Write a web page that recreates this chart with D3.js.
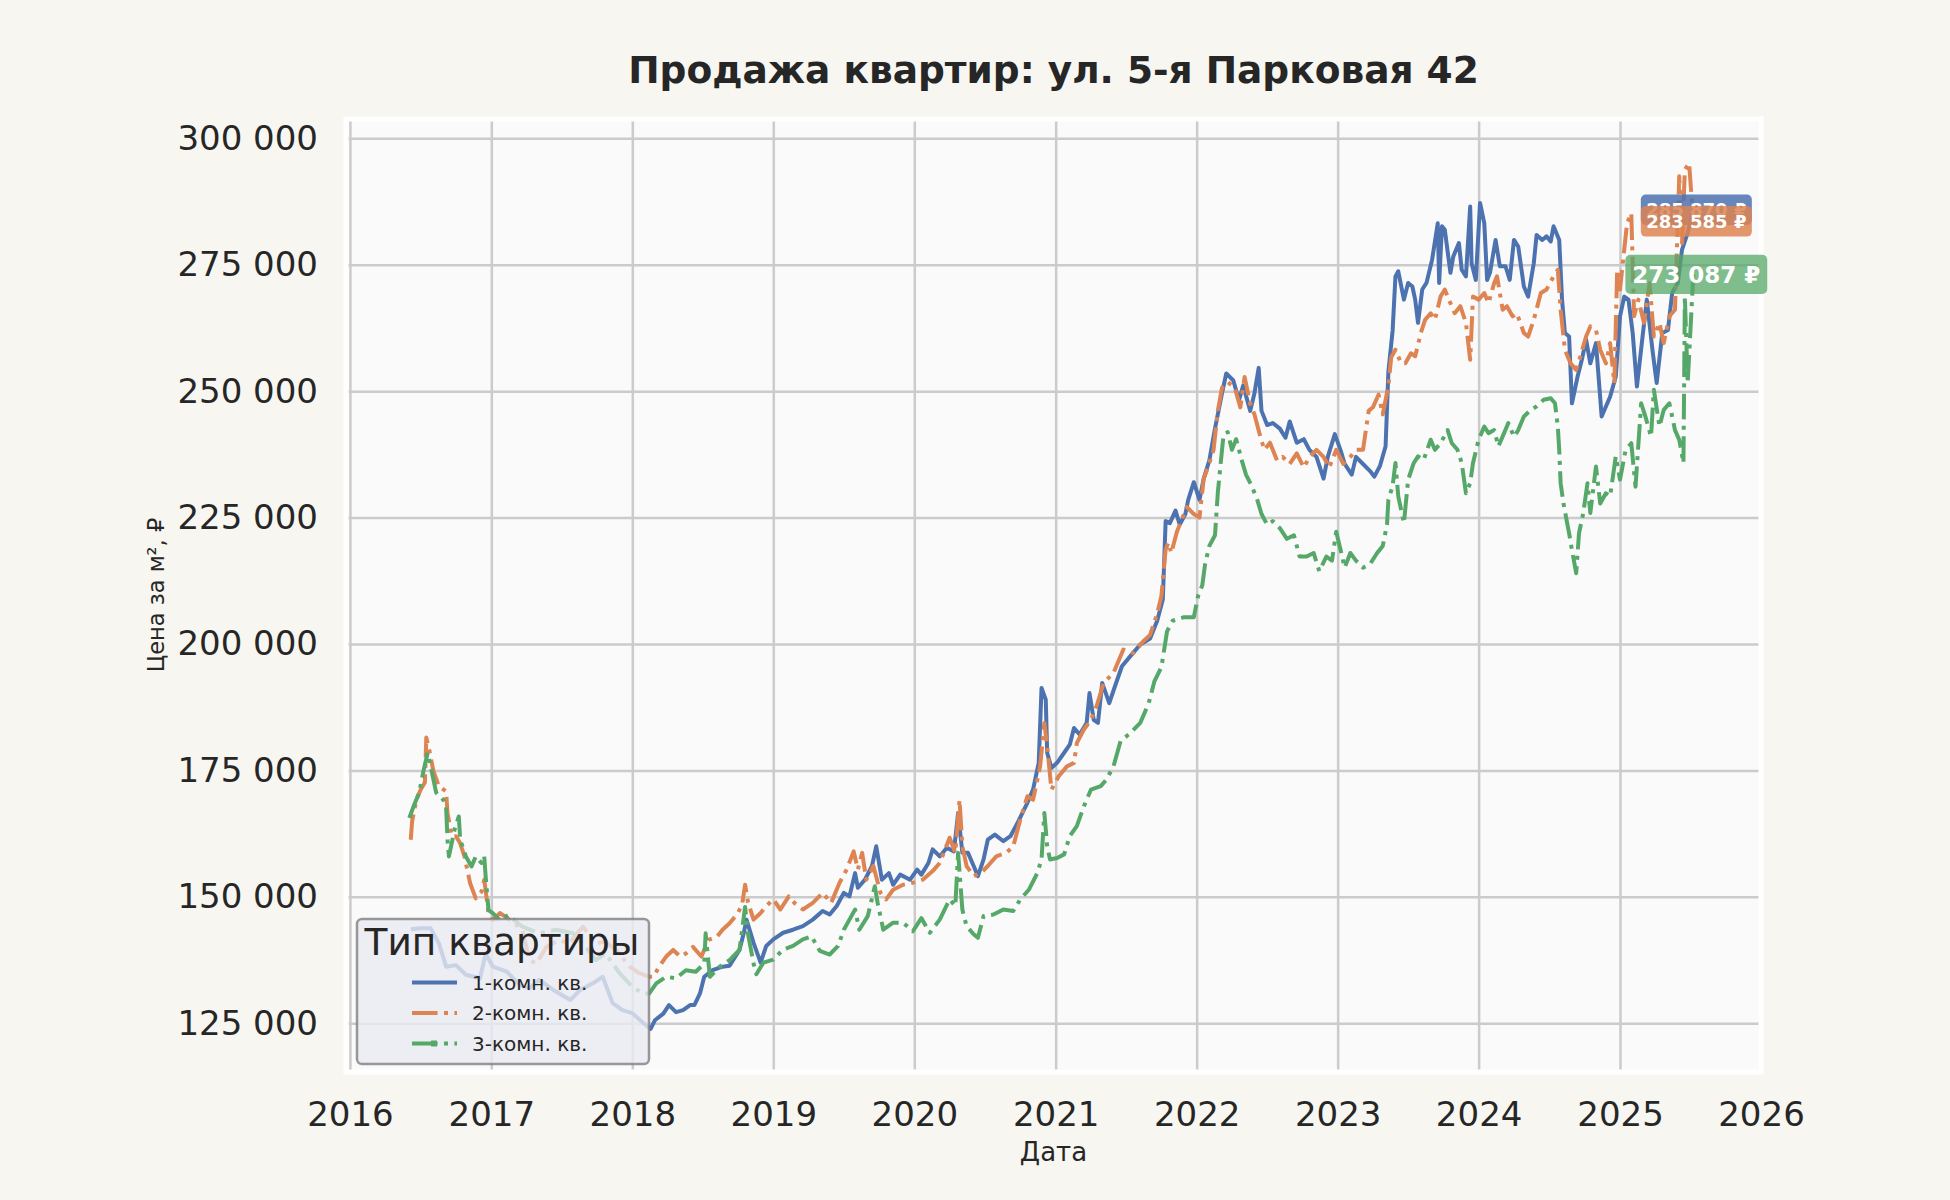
<!DOCTYPE html>
<html>
<head>
<meta charset="utf-8">
<script src="https://cdn.jsdelivr.net/npm/d3@7"></script>
<style>
  body { margin: 0; background: #f7f6f1; }
  svg { display: block; font-family: "DejaVu Sans", sans-serif; }
</style>
</head>
<body>
<div id="chart"></div>
<script>
// Data: [decimal year, price per m2]
var seriesNames = ["1-комн. кв.", "2-комн. кв.", "3-комн. кв."];

var room1 = [
  [2016.43,143600],[2016.50,143800],[2016.57,143800],[2016.63,140800],[2016.68,136200],[2016.75,136500],
  [2016.82,134600],[2016.92,133900],[2016.96,138800],[2017.01,136200],[2017.11,135200],[2017.20,132600],
  [2017.27,131900],[2017.34,133600],[2017.44,131600],[2017.56,129600],[2017.63,131600],[2017.72,132900],
  [2017.79,134200],[2017.86,129000],[2017.93,127600],[2018.00,127000],[2018.08,125000],[2018.13,123900],
  [2018.16,125600],[2018.22,126900],[2018.26,128600],[2018.31,127200],[2018.36,127600],[2018.41,128600],
  [2018.44,128600],[2018.48,130900],[2018.51,134200],[2018.57,135500],[2018.64,136200],[2018.69,136400],
  [2018.76,139500],[2018.79,142800],[2018.81,145500],[2018.86,140900],[2018.91,137000],[2018.95,140300],
  [2019.00,141600],[2019.07,142900],[2019.14,143500],[2019.21,144200],[2019.28,145500],[2019.35,147200],
  [2019.40,146500],[2019.45,148200],[2019.50,150800],[2019.54,150100],[2019.58,154700],[2019.60,151800],
  [2019.65,153400],[2019.70,156100],[2019.73,160000],[2019.77,153400],[2019.82,154700],[2019.85,152400],
  [2019.90,154400],[2019.97,153400],[2020.02,155400],[2020.05,154400],[2020.10,156700],[2020.13,159400],
  [2020.18,158000],[2020.23,159700],[2020.28,159000],[2020.31,166600],[2020.34,158700],[2020.38,158700],
  [2020.42,156100],[2020.45,154100],[2020.49,157400],[2020.52,161300],[2020.57,162300],[2020.63,161000],
  [2020.68,162000],[2020.73,164600],[2020.76,166300],[2020.80,168600],[2020.84,171200],[2020.88,176500],
  [2020.90,191300],[2020.93,189000],[2020.94,178500],[2020.97,175500],[2021.01,176500],[2021.06,178500],
  [2021.10,180100],[2021.13,183400],[2021.17,182100],[2021.22,184400],[2021.24,190300],[2021.27,185000],
  [2021.30,184400],[2021.33,192300],[2021.38,188300],[2021.42,191600],[2021.47,195600],[2021.53,197600],
  [2021.60,199900],[2021.67,201100],[2021.72,204600],[2021.76,208800],[2021.78,224300],[2021.81,223900],
  [2021.85,226400],[2021.88,223600],[2021.92,225700],[2021.94,228500],[2021.98,232000],[2022.02,228500],
  [2022.05,232700],[2022.09,236300],[2022.13,242600],[2022.18,249600],[2022.21,253500],[2022.26,252100],
  [2022.30,248200],[2022.33,251100],[2022.38,246100],[2022.41,249600],[2022.44,254600],[2022.46,246100],
  [2022.50,243300],[2022.54,243700],[2022.59,242600],[2022.63,240800],[2022.66,244000],[2022.71,239800],
  [2022.76,240500],[2022.80,238400],[2022.85,237000],[2022.90,232700],[2022.93,237000],[2022.98,241500],
  [2023.02,238400],[2023.05,235600],[2023.10,233500],[2023.13,237000],[2023.18,235600],[2023.23,234200],
  [2023.26,233100],[2023.30,235200],[2023.34,239100],[2023.36,253900],[2023.39,262000],[2023.41,272700],
  [2023.43,273700],[2023.47,268100],[2023.50,271400],[2023.53,270700],[2023.55,268100],[2023.57,263500],
  [2023.60,270100],[2023.63,271400],[2023.67,276000],[2023.71,283200],[2023.72,271400],[2023.74,282600],
  [2023.76,281900],[2023.80,273400],[2023.82,276600],[2023.86,279300],[2023.88,274000],[2023.91,272700],
  [2023.94,286500],[2023.95,275300],[2023.98,272000],[2024.01,287200],[2024.04,283200],[2024.06,272000],
  [2024.08,273400],[2024.12,279900],[2024.15,274700],[2024.19,274700],[2024.22,272000],[2024.25,279900],
  [2024.28,278600],[2024.32,270700],[2024.35,268700],[2024.39,275300],[2024.41,280900],[2024.45,279900],
  [2024.48,280600],[2024.51,279600],[2024.53,282600],[2024.57,279900],[2024.59,268100],[2024.61,261500],
  [2024.64,260800],[2024.66,247600],[2024.70,252900],[2024.73,256200],[2024.76,260200],[2024.79,255500],
  [2024.83,259500],[2024.87,245000],[2024.93,248900],[2024.97,252900],[2025.00,264800],[2025.03,268700],
  [2025.06,268100],[2025.09,261500],[2025.12,250900],[2025.16,260800],[2025.19,268100],[2025.23,258200],
  [2025.26,251600],[2025.30,261500],[2025.34,262100],[2025.37,269400],[2025.41,271400],[2025.44,278000],
  [2025.48,281300],[2025.52,285870]
];

var room2 = [
  [2016.43,161300],[2016.44,165000],[2016.47,169200],[2016.50,171200],[2016.53,172600],[2016.54,181500],
  [2016.56,179200],[2016.59,174900],[2016.63,171800],[2016.68,170900],[2016.69,166600],[2016.72,162000],
  [2016.75,162000],[2016.78,160600],[2016.81,158000],[2016.85,152700],[2016.89,149700],[2016.93,151000],
  [2016.95,153400],[2016.98,146800],[2017.01,145400],[2017.06,146800],[2017.10,146100],[2017.22,143500],
  [2017.27,137500],[2017.32,136800],[2017.39,140100],[2017.48,141500],[2017.55,140800],[2017.65,144100],
  [2017.74,140800],[2017.81,141200],[2017.91,138800],[2017.98,136200],[2018.05,134900],[2018.12,134200],
  [2018.15,134200],[2018.19,136200],[2018.24,138200],[2018.29,139500],[2018.34,138200],[2018.38,138800],
  [2018.43,140100],[2018.49,138200],[2018.54,141500],[2018.60,142100],[2018.64,143500],[2018.69,144800],
  [2018.75,146800],[2018.78,148700],[2018.80,152400],[2018.82,149000],[2018.86,145500],[2018.91,146800],
  [2018.95,148200],[2019.00,149500],[2019.05,147500],[2019.11,150100],[2019.15,148800],[2019.21,147500],
  [2019.28,148800],[2019.35,150800],[2019.41,148800],[2019.47,152800],[2019.52,155400],[2019.57,159000],
  [2019.60,155400],[2019.63,158700],[2019.66,153400],[2019.71,156100],[2019.76,150800],[2019.80,149500],
  [2019.85,151400],[2019.92,152400],[2019.99,152800],[2020.06,153400],[2020.13,155100],[2020.18,156700],
  [2020.25,161700],[2020.29,158700],[2020.32,169200],[2020.34,160000],[2020.37,156100],[2020.42,154100],
  [2020.47,154700],[2020.52,156100],[2020.58,158000],[2020.65,158700],[2020.70,160000],[2020.75,165300],
  [2020.80,169900],[2020.84,169200],[2020.89,175800],[2020.92,184400],[2020.94,179800],[2020.97,171200],
  [2021.02,173800],[2021.08,175800],[2021.13,176500],[2021.15,180400],[2021.20,183100],[2021.25,185000],
  [2021.29,187700],[2021.34,192300],[2021.41,194300],[2021.48,198900],[2021.55,198200],[2021.62,200500],
  [2021.67,201800],[2021.72,206000],[2021.75,209500],[2021.78,218700],[2021.80,220100],[2021.82,218000],
  [2021.86,222200],[2021.89,224300],[2021.93,227100],[2021.98,225700],[2022.02,225000],[2022.05,232700],
  [2022.08,234900],[2022.12,238400],[2022.15,246100],[2022.18,250700],[2022.22,251800],[2022.27,250700],
  [2022.31,246800],[2022.34,252800],[2022.38,247500],[2022.41,245400],[2022.45,241200],[2022.48,238400],
  [2022.52,239800],[2022.57,236300],[2022.61,237000],[2022.66,235600],[2022.71,237700],[2022.76,234900],
  [2022.80,237000],[2022.85,238400],[2022.90,237000],[2022.94,234900],[2022.99,238400],[2023.04,235600],
  [2023.09,237000],[2023.13,238400],[2023.18,238400],[2023.22,246100],[2023.25,246800],[2023.29,249300],
  [2023.32,245400],[2023.36,251100],[2023.38,256700],[2023.41,258200],[2023.45,255500],[2023.48,255500],
  [2023.52,257500],[2023.55,256900],[2023.59,261500],[2023.62,264100],[2023.66,265400],[2023.69,264100],
  [2023.73,268700],[2023.76,270100],[2023.80,267400],[2023.83,265400],[2023.87,266800],[2023.91,263500],
  [2023.94,256200],[2023.96,268700],[2024.00,268100],[2024.04,269400],[2024.07,267400],[2024.11,271400],
  [2024.13,272700],[2024.17,266100],[2024.20,266800],[2024.24,264800],[2024.27,265400],[2024.32,261500],
  [2024.35,260800],[2024.39,264100],[2024.44,269400],[2024.48,270100],[2024.53,272700],[2024.56,274000],
  [2024.58,266100],[2024.61,258200],[2024.65,255500],[2024.69,254200],[2024.72,256900],[2024.76,260800],
  [2024.79,262800],[2024.83,262100],[2024.86,258200],[2024.90,255500],[2024.93,259500],[2024.96,251600],
  [2024.98,274000],[2025.00,270100],[2025.03,278000],[2025.05,283200],[2025.08,285200],[2025.10,264800],
  [2025.13,268100],[2025.17,263500],[2025.21,271400],[2025.24,260800],[2025.28,263500],[2025.31,259500],
  [2025.35,264800],[2025.39,266100],[2025.42,292500],[2025.44,279300],[2025.46,293800],[2025.49,295100],
  [2025.52,283585]
];

var room3 = [
  [2016.42,165600],[2016.45,167900],[2016.49,170600],[2016.52,174900],[2016.55,178500],[2016.57,175900],
  [2016.61,170600],[2016.66,169200],[2016.68,167900],[2016.69,161300],[2016.70,158000],[2016.74,163300],
  [2016.77,165900],[2016.78,161300],[2016.82,158000],[2016.86,156000],[2016.89,158000],[2016.93,156700],
  [2016.95,158000],[2016.96,154000],[2016.98,147400],[2017.01,146800],[2017.06,145400],[2017.12,146400],
  [2017.22,144100],[2017.34,142800],[2017.46,143500],[2017.58,142800],[2017.67,140100],[2017.74,137500],
  [2017.81,138800],[2017.91,134900],[2018.00,132200],[2018.08,130900],[2018.12,130900],[2018.17,132900],
  [2018.24,134200],[2018.31,133900],[2018.38,135500],[2018.45,135200],[2018.51,136800],[2018.52,142800],
  [2018.55,134200],[2018.62,136200],[2018.69,137500],[2018.76,139500],[2018.80,148000],[2018.82,142800],
  [2018.86,136800],[2018.88,134700],[2018.93,137000],[2019.00,137600],[2019.07,139600],[2019.14,140300],
  [2019.21,141600],[2019.27,142200],[2019.33,139300],[2019.40,138600],[2019.46,140300],[2019.50,143500],
  [2019.54,145500],[2019.58,147500],[2019.61,143500],[2019.67,146200],[2019.72,152100],[2019.74,148800],
  [2019.78,143500],[2019.85,144900],[2019.92,144900],[2019.99,143200],[2020.05,145800],[2020.11,142900],
  [2020.18,145500],[2020.25,149500],[2020.29,148200],[2020.31,158700],[2020.34,147500],[2020.37,144200],
  [2020.42,142600],[2020.45,141900],[2020.49,146200],[2020.56,146500],[2020.63,147500],[2020.70,147200],
  [2020.75,149500],[2020.81,151400],[2020.87,154700],[2020.90,157400],[2020.92,166600],[2020.94,160000],
  [2020.96,157400],[2021.01,157700],[2021.06,158400],[2021.10,162000],[2021.15,164000],[2021.20,167900],
  [2021.25,171200],[2021.32,171900],[2021.36,173200],[2021.41,175800],[2021.46,180800],[2021.53,182400],
  [2021.60,184400],[2021.66,188300],[2021.70,192600],[2021.75,195400],[2021.79,202500],[2021.83,204600],
  [2021.91,205300],[2021.98,205300],[2022.01,209500],[2022.04,211600],[2022.06,215800],[2022.09,219400],
  [2022.13,221500],[2022.15,229900],[2022.17,235600],[2022.19,241200],[2022.22,241900],[2022.25,238400],
  [2022.28,240500],[2022.32,236300],[2022.35,233500],[2022.39,231300],[2022.43,228500],[2022.46,225700],
  [2022.50,223600],[2022.54,224300],[2022.59,222900],[2022.64,220800],[2022.69,221500],[2022.73,217300],
  [2022.78,217300],[2022.83,218000],[2022.87,214400],[2022.92,217300],[2022.96,216500],[2022.99,222200],
  [2023.02,218700],[2023.05,215100],[2023.09,218000],[2023.13,216500],[2023.18,215100],[2023.23,215800],
  [2023.28,218000],[2023.32,219400],[2023.35,223600],[2023.36,228500],[2023.39,231300],[2023.41,235800],
  [2023.43,229200],[2023.47,223900],[2023.50,232500],[2023.54,235800],[2023.57,237100],[2023.61,236400],
  [2023.66,240400],[2023.69,238400],[2023.73,239700],[2023.78,242300],[2023.81,239700],[2023.85,238400],
  [2023.88,235800],[2023.91,229800],[2023.94,231800],[2023.96,235800],[2024.00,240400],[2024.04,243000],
  [2024.07,241700],[2024.11,242300],[2024.14,239100],[2024.18,241700],[2024.21,243700],[2024.25,241000],
  [2024.28,242300],[2024.32,245000],[2024.37,246300],[2024.41,247000],[2024.46,248300],[2024.51,248600],
  [2024.54,247600],[2024.56,243000],[2024.57,238400],[2024.58,231800],[2024.60,227800],[2024.64,221900],
  [2024.66,218600],[2024.69,214000],[2024.71,221900],[2024.74,225900],[2024.77,231800],[2024.79,225900],
  [2024.83,235100],[2024.86,227800],[2024.90,229800],[2024.93,229200],[2024.97,237100],[2025.00,232500],
  [2025.04,238400],[2025.08,239700],[2025.11,231100],[2025.15,247600],[2025.18,245000],[2025.22,241000],
  [2025.24,250300],[2025.28,243000],[2025.31,246300],[2025.35,247600],[2025.39,242300],[2025.42,240400],
  [2025.45,235800],[2025.46,268700],[2025.48,251600],[2025.52,273087]
];

var yTicks = [125000, 150000, 175000, 200000, 225000, 250000, 275000, 300000];
var xTickYears = [2016, 2017, 2018, 2019, 2020, 2021, 2022, 2023, 2024, 2025, 2026];

var svgWidth = 1950;
var svgHeight = 1200;
var plot = { left: 346, right: 1761, top: 119, bottom: 1072 };

var colors = ["#4c72b0", "#dd8452", "#55a868"];
var dashes = [null, "25.6,6.4,4,6.4", "25.6,6.4,4,6.4"];
var labelSizes = [18, 18, 23];
var textColor = "#262626";

function toDate(t) {
  var yr = Math.floor(t);
  var a = Date.UTC(yr, 0, 1), b = Date.UTC(yr + 1, 0, 1);
  return new Date(a + (t - yr) * (b - a));
}
var spaced = function(v) { return d3.format(",")(v).replace(/,/g, " "); };

var svg = d3.select("#chart").append("svg")
  .attr("width", svgWidth)
  .attr("height", svgHeight);

svg.append("rect").attr("width", svgWidth).attr("height", svgHeight).attr("fill", "#f7f6f1");

var x = d3.scaleUtc()
  .domain([toDate(2015.972), toDate(2026.0)])
  .range([plot.left, plot.right]);
var y = d3.scaleLinear()
  .domain([115370, 303816])
  .range([plot.bottom, plot.top]);

// axes background
svg.append("rect")
  .attr("x", plot.left).attr("y", plot.top)
  .attr("width", plot.right - plot.left).attr("height", plot.bottom - plot.top)
  .attr("fill", "#fafafa");

// grid + tick labels
var yAxis = svg.append("g")
  .attr("transform", `translate(${plot.left},0)`)
  .call(d3.axisLeft(y).tickValues(yTicks).tickFormat(spaced)
    .tickSize(-(plot.right - plot.left)).tickPadding(28));
var xAxis = svg.append("g")
  .attr("transform", `translate(0,${plot.bottom})`)
  .call(d3.axisBottom(x).tickValues(xTickYears.map(toDate)).tickFormat(d3.utcFormat("%Y"))
    .tickSize(-(plot.bottom - plot.top)).tickPadding(30));

[xAxis, yAxis].forEach(function(g) {
  g.select(".domain").remove();
  g.selectAll(".tick line").attr("stroke", "#cbcbcb").attr("stroke-width", 2.5);
  g.selectAll(".tick text")
    .attr("fill", textColor)
    .attr("font-size", 34)
    .attr("font-family", "DejaVu Sans");
});

// white spine frame
svg.append("rect")
  .attr("x", plot.left).attr("y", plot.top)
  .attr("width", plot.right - plot.left).attr("height", plot.bottom - plot.top)
  .attr("fill", "none").attr("stroke", "#ffffff").attr("stroke-width", 5);

// lines
var line = d3.line()
  .x(function(d) { return x(toDate(d[0])); })
  .y(function(d) { return y(d[1]); });

var allSeries = [room1, room2, room3];
allSeries.forEach(function(data, i) {
  svg.append("path")
    .datum(data)
    .attr("d", line)
    .attr("fill", "none")
    .attr("stroke", colors[i])
    .attr("stroke-width", 4)
    .attr("stroke-linejoin", "round")
    .attr("stroke-dasharray", dashes[i]);
});

// title and axis labels
svg.append("text")
  .attr("x", (plot.left + plot.right) / 2).attr("y", 83)
  .attr("text-anchor", "middle")
  .attr("font-size", 37.5).attr("font-weight", "bold")
  .attr("fill", textColor)
  .text("Продажа квартир: ул. 5-я Парковая 42");

svg.append("text")
  .attr("x", (plot.left + plot.right) / 2).attr("y", 1161)
  .attr("text-anchor", "middle")
  .attr("font-size", 26)
  .attr("fill", textColor)
  .text("Дата");

svg.append("text")
  .attr("transform", "translate(164,595) rotate(-90)")
  .attr("text-anchor", "middle")
  .attr("font-size", 22.5)
  .attr("fill", textColor)
  .text("Цена за м², ₽");

// legend
var legend = svg.append("g");
legend.append("rect")
  .attr("x", 357).attr("y", 919).attr("width", 292).attr("height", 145)
  .attr("rx", 5)
  .attr("fill", "#eaeaf2").attr("fill-opacity", 0.8)
  .attr("stroke", "#7f7f7f").attr("stroke-opacity", 0.8).attr("stroke-width", 2.5);
legend.append("text")
  .attr("x", 502).attr("y", 955)
  .attr("text-anchor", "middle")
  .attr("font-size", 37.5)
  .attr("fill", textColor)
  .text("Тип квартиры");

seriesNames.forEach(function(name, i) {
  var ly = 982.5 + i * 30.5;
  legend.append("line")
    .attr("x1", 412).attr("x2", 457).attr("y1", ly).attr("y2", ly)
    .attr("stroke", colors[i]).attr("stroke-width", 4)
    .attr("stroke-dasharray", dashes[i]);
  if (i === 2) {
    legend.append("rect")
      .attr("x", 431).attr("y", ly - 3).attr("width", 6).attr("height", 6)
      .attr("fill", colors[i]);
  }
  legend.append("text")
    .attr("x", 472).attr("y", ly)
    .attr("dy", "0.35em")
    .attr("font-size", 20)
    .attr("fill", textColor)
    .text(name);
});

// end-of-line value labels
allSeries.forEach(function(data, i) {
  var last = data[data.length - 1];
  var fs = labelSizes[i];
  var cx = x(toDate(last[0])) + 3;
  var cy = y(last[1]);
  var g = svg.append("g");
  var box = g.append("rect");
  var t = g.append("text")
    .attr("x", cx).attr("y", cy)
    .attr("dy", "0.36em")
    .attr("text-anchor", "middle")
    .attr("font-size", fs).attr("font-weight", "bold")
    .attr("fill", "#ffffff")
    .text(spaced(last[1]) + " ₽");
  var w = t.node().getComputedTextLength();
  var pad = 0.3 * fs;
  box.attr("x", cx - w / 2 - pad).attr("y", cy - 0.55 * fs - pad)
    .attr("width", w + 2 * pad).attr("height", 1.1 * fs + 2 * pad)
    .attr("rx", 5)
    .attr("fill", colors[i])
    .attr("fill-opacity", i === 2 ? 0.75 : 0.85);
});
</script>
</body>
</html>
